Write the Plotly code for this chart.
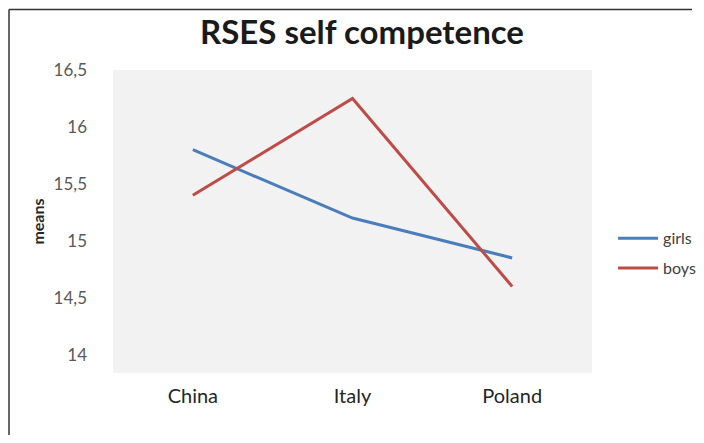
import plotly.graph_objects as go

countries = ["China", "Italy", "Poland"]
girls = [15.8, 15.2, 14.85]
boys = [15.4, 16.25, 14.6]
y_tickvals = [14, 14.5, 15, 15.5, 16, 16.5]
y_ticktext = ["14", "14,5", "15", "15,5", "16", "16,5"]

FONT = "Lato"
W, H = 688, 427  # page adds 8px body margin on every side
fig = go.Figure()
fig.add_trace(go.Scatter(x=countries, y=girls, mode="lines", name="girls",
                         legendgroup="g", line=dict(color="#4A7EBB", width=3)))
fig.add_trace(go.Scatter(x=countries, y=boys, mode="lines", name="boys",
                         legendgroup="b", line=dict(color="#BE4B48", width=3)))

fig.update_layout(
    width=W, height=H,
    margin=dict(l=105, r=104, t=62, b=62, autoexpand=False),
    paper_bgcolor="white", plot_bgcolor="#F2F2F2",
    font=dict(family=FONT, color="#404040"),
    title=dict(text="<b>RSES self competence</b>", x=354 / W, xanchor="center",
               y=1 - 24 / H, yanchor="middle",
               font=dict(family=FONT, size=33, color="#1a1a1a")),
    legend=dict(x=1.044, y=0.395, xanchor="left", yanchor="middle",
                font=dict(family=FONT, size=16, color="#404040"),
                bgcolor="rgba(0,0,0,0)", itemwidth=40, tracegroupgap=6),
    showlegend=True,
)
fig.update_xaxes(range=[-0.5, 2.5], showgrid=False, zeroline=False, showline=False,
                 ticks="", ticklabelstandoff=9,
                 tickfont=dict(family=FONT, size=20, color="#262626"))
fig.update_yaxes(range=[13.84, 16.5], tickvals=y_tickvals, ticktext=y_ticktext,
                 showgrid=False, zeroline=False, showline=False, ticks="",
                 ticklabelstandoff=25,
                 tickfont=dict(family=FONT, size=17, color="#595959"),
                 title=dict(text="<b>means</b>", standoff=4,
                            font=dict(family=FONT, size=16, color="#262626")))

# outer chart border (only top and left edges are visible in the reference)
fig.add_shape(type="line", xref="paper", yref="paper",
              x0=-0.2171, x1=1.2088, y0=1.2, y1=1.2,
              line=dict(color="#333333", width=1.5))
fig.add_shape(type="line", xref="paper", yref="paper",
              x0=-0.2171, x1=-0.2171, y0=-0.3, y1=1.2,
              line=dict(color="#333333", width=1.5))

fig.write_html("out.html")
